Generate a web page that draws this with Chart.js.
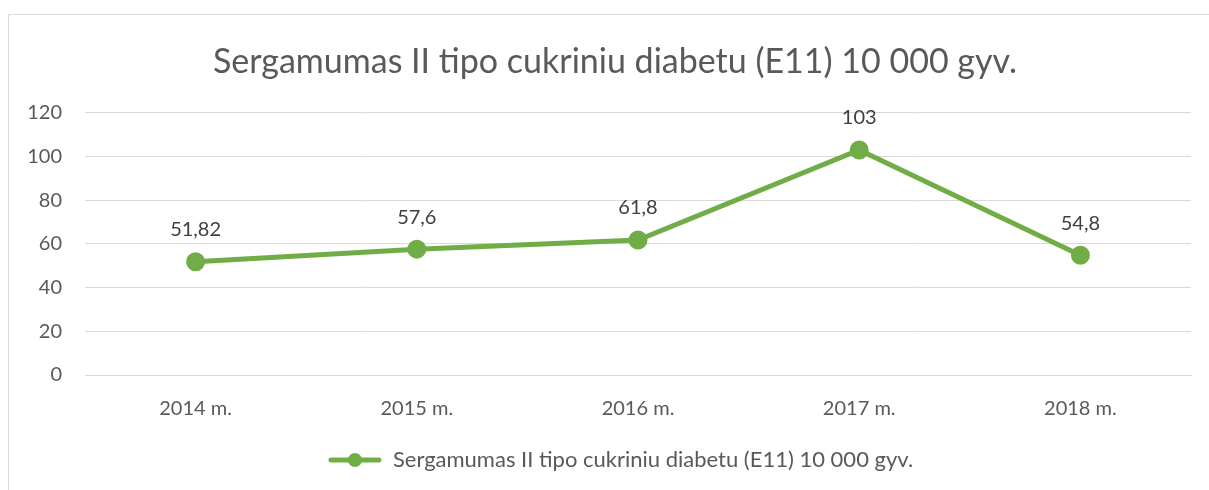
<!DOCTYPE html>
<html><head><meta charset="utf-8">
<script src="https://cdn.jsdelivr.net/npm/chart.js@4.4.1/dist/chart.umd.min.js"></script>
<style>
html,body{margin:0;padding:0;background:#fff;}
#wrap{position:relative;width:1209px;height:490px;overflow:hidden;}
#frame{position:absolute;left:8px;top:14px;width:1220px;height:500px;border:1px solid #d9d9d9;box-sizing:border-box;}
#c{position:absolute;left:0;top:0;}
</style></head>
<body>
<div id="wrap"><div id="frame"></div><canvas id="c" width="1209" height="490"></canvas></div>
<script>
const categories = ["2014 m.", "2015 m.", "2016 m.", "2017 m.", "2018 m."];
const values = [51.82, 57.6, 61.8, 103, 54.8];
const valueLabels = ["51,82", "57,6", "61,8", "103", "54,8"];
const seriesName = "Sergamumas II tipo cukriniu diabetu (E11) 10 000 gyv.";
const titleText = "Sergamumas II tipo cukriniu diabetu (E11) 10 000 gyv.";
const yTicks = [0, 20, 40, 60, 80, 100, 120];

const FONT = "Lato, 'Open Sans', sans-serif";
const GREEN = "#70AD47";

const icon = document.createElement('canvas');
icon.width = 54; icon.height = 16;
(function(){
  const g = icon.getContext('2d');
  g.strokeStyle = GREEN; g.lineWidth = 5; g.lineCap = 'round';
  g.beginPath(); g.moveTo(3, 8); g.lineTo(51, 8); g.stroke();
  g.fillStyle = GREEN; g.beginPath(); g.arc(27, 8, 7, 0, Math.PI*2); g.fill();
})();

const dataLabels = {
  id: 'dataLabels',
  afterDatasetsDraw(chart) {
    const ctx = chart.ctx;
    const meta = chart.getDatasetMeta(0);
    ctx.save();
    ctx.font = "20px " + FONT;
    ctx.fillStyle = "#404040";
    ctx.textAlign = "center";
    ctx.textBaseline = "middle";
    meta.data.forEach((pt, i) => {
      ctx.fillText(valueLabels[i], pt.x, pt.y - 32);
    });
    ctx.restore();
  }
};

// centre title and legend on the outer frame rather than the canvas
const shiftBlocks = {
  id: 'shiftBlocks',
  afterLayout(chart) {
    if (chart.titleBlock) chart.titleBlock.left += 39;
    if (chart.legend) chart.legend.left += 50;
  }
};

new Chart(document.getElementById('c'), {
  type: 'line',
  data: {
    labels: categories,
    datasets: [{
      label: seriesName,
      data: values,
      borderColor: GREEN,
      backgroundColor: GREEN,
      borderWidth: 5,
      pointRadius: 7,
      pointHoverRadius: 7,
      pointBackgroundColor: GREEN,
      pointBorderColor: GREEN,
      pointStyle: 'circle',
      tension: 0
    }]
  },
  options: {
    responsive: false,
    animation: false,
    layout: { padding: { left: 0, right: 18, top: 0, bottom: 9 } },
    plugins: {
      title: {
        display: true, text: titleText, color: "#595959",
        font: { family: FONT, size: 34, weight: 'normal' },
        padding: { top: 42, bottom: 30 }
      },
      legend: {
        position: 'bottom',
        labels: {
          color: "#595959",
          font: { family: FONT, size: 22 },
          usePointStyle: true,
          pointStyle: icon,
          boxWidth: 54, boxHeight: 16, pointStyleWidth: 54,
          padding: 10
        }
      },
      tooltip: { enabled: false }
    },
    scales: {
      x: {
        offset: true,
        grid: { display: false, drawTicks: false },
        border: { display: true, color: "#d9d9d9", width: 1 },
        ticks: { color: "#595959", font: { family: FONT, size: 20 }, padding: 22 },
        afterFit(s) { s.height = 64; }
      },
      y: {
        min: yTicks[0], max: yTicks[yTicks.length - 1],
        afterBuildTicks(s) { s.ticks = yTicks.map(v => ({ value: v })); },
        ticks: { color: "#595959", font: { family: FONT, size: 20 }, padding: 23 },
        grid: { color: "#d9d9d9", lineWidth: 1, drawTicks: false },
        border: { display: false },
        afterFit(s) { s.width = 85; }
      }
    }
  },
  plugins: [dataLabels, shiftBlocks]
});
</script>
</body></html>
